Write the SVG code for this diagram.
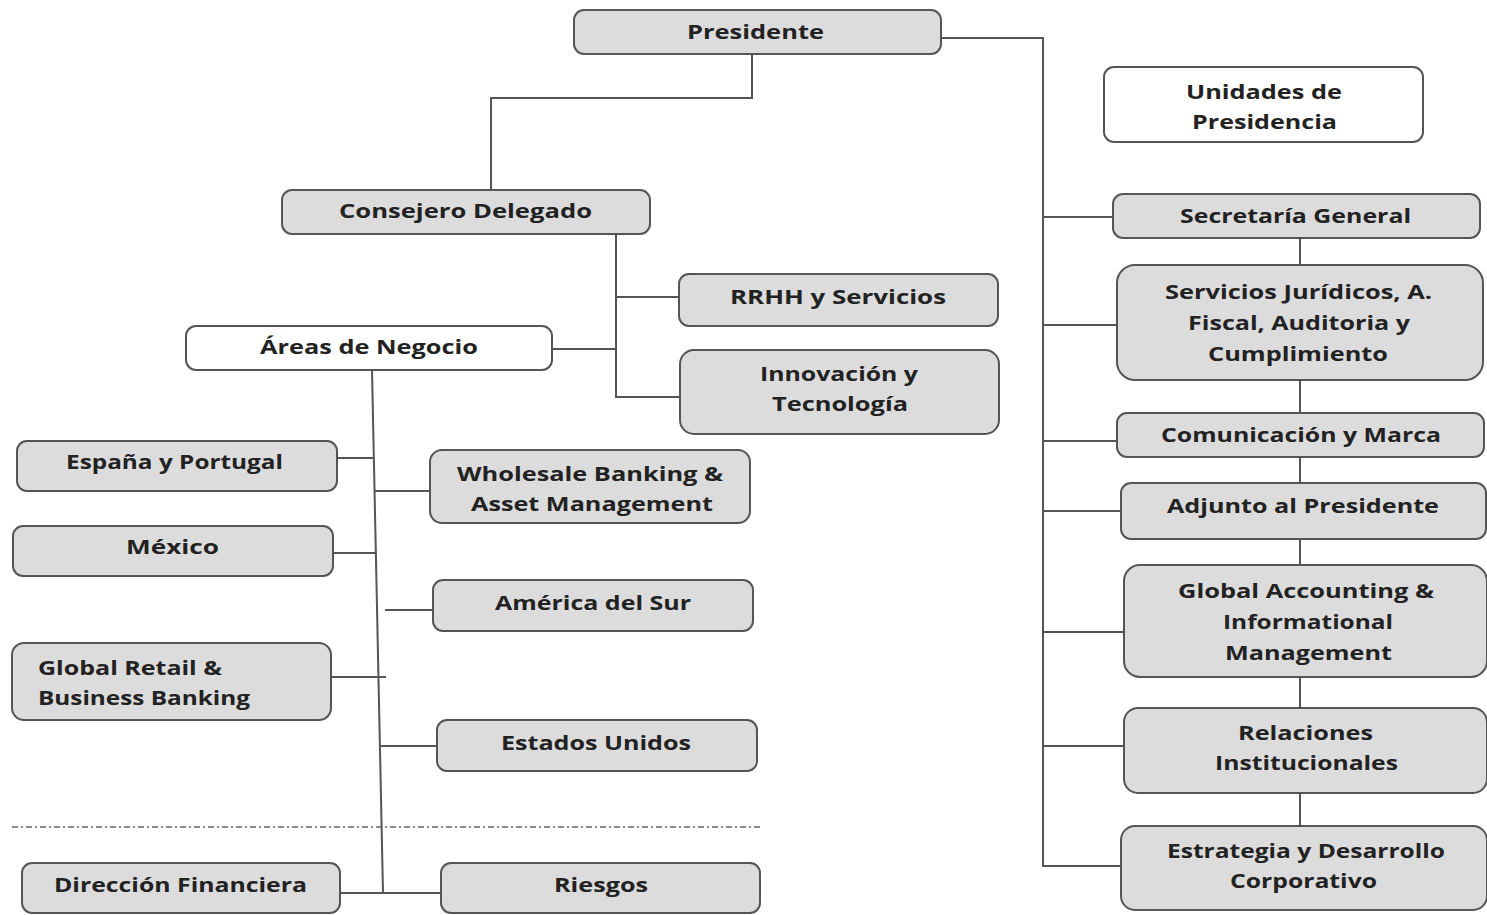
<svg xmlns="http://www.w3.org/2000/svg" width="1487" height="915" viewBox="0 0 1487 915">
<style>
.b{fill:#dcdcdc;stroke:#555;stroke-width:2}
.w{fill:#fff;stroke:#555;stroke-width:2}
.t{font-family:"Open Sans","Liberation Sans",sans-serif;font-weight:700;font-size:20px;fill:#222}
.c{fill:none;stroke:#555;stroke-width:2}
.d{fill:none;stroke:#666;stroke-width:1.5;stroke-dasharray:6 3 2 3}
</style>
<rect width="1487" height="915" fill="#fff"/>
<g id="connectors">
<polyline class="c" points="752,54 752,98 491,98 491,190"/>
<polyline class="c" points="941,38 1043,38 1043,866 1121,866"/>
<line class="c" x1="1043" y1="217" x2="1113" y2="217"/>
<line class="c" x1="1043" y1="325" x2="1117" y2="325"/>
<line class="c" x1="1043" y1="441" x2="1117" y2="441"/>
<line class="c" x1="1043" y1="511" x2="1121" y2="511"/>
<line class="c" x1="1043" y1="632" x2="1124" y2="632"/>
<line class="c" x1="1043" y1="746" x2="1124" y2="746"/>
<line class="c" x1="1300" y1="238" x2="1300" y2="265"/>
<line class="c" x1="1300" y1="380" x2="1300" y2="413"/>
<line class="c" x1="1300" y1="457" x2="1300" y2="483"/>
<line class="c" x1="1300" y1="539" x2="1300" y2="565"/>
<line class="c" x1="1300" y1="677" x2="1300" y2="708"/>
<line class="c" x1="1300" y1="793" x2="1300" y2="826"/>
<polyline class="c" points="616,234 616,397 680,397"/>
<line class="c" x1="616" y1="297" x2="679" y2="297"/>
<line class="c" x1="552" y1="349" x2="616" y2="349"/>
<line class="c" x1="372" y1="370" x2="383" y2="893"/>
<line class="c" x1="337" y1="458" x2="374" y2="458"/>
<line class="c" x1="374" y1="491" x2="430" y2="491"/>
<line class="c" x1="333" y1="553" x2="375" y2="553"/>
<line class="c" x1="385" y1="610" x2="433" y2="610"/>
<line class="c" x1="331" y1="677" x2="386" y2="677"/>
<line class="c" x1="381" y1="746" x2="437" y2="746"/>
<line class="c" x1="340" y1="893" x2="441" y2="893"/>
<line class="d" x1="12" y1="827" x2="760" y2="827"/>
</g>
<g id="presidente"><rect class="b" x="574" y="10" width="367" height="44" rx="10"/><text class="t" x="687" y="39" textLength="137" lengthAdjust="spacingAndGlyphs">Presidente</text></g>
<g id="unidades"><rect class="w" x="1104" y="67" width="319" height="75" rx="10"/><text class="t" x="1186" y="99" textLength="156" lengthAdjust="spacingAndGlyphs">Unidades de</text><text class="t" x="1192" y="129" textLength="145" lengthAdjust="spacingAndGlyphs">Presidencia</text></g>
<g id="secretaria"><rect class="b" x="1113" y="194" width="367" height="44" rx="10"/><text class="t" x="1180" y="223" textLength="231" lengthAdjust="spacingAndGlyphs">Secretaría General</text></g>
<g id="servicios"><rect class="b" x="1117" y="265" width="366" height="115" rx="18"/><text class="t" x="1165" y="299" textLength="267" lengthAdjust="spacingAndGlyphs">Servicios Jurídicos, A.</text><text class="t" x="1188" y="330" textLength="222" lengthAdjust="spacingAndGlyphs">Fiscal, Auditoria y</text><text class="t" x="1208" y="361" textLength="180" lengthAdjust="spacingAndGlyphs">Cumplimiento</text></g>
<g id="comunicacion"><rect class="b" x="1117" y="413" width="367" height="44" rx="10"/><text class="t" x="1161" y="442" textLength="280" lengthAdjust="spacingAndGlyphs">Comunicación y Marca</text></g>
<g id="adjunto"><rect class="b" x="1121" y="483" width="365" height="56" rx="10"/><text class="t" x="1167" y="513" textLength="272" lengthAdjust="spacingAndGlyphs">Adjunto al Presidente</text></g>
<g id="global-accounting"><rect class="b" x="1124" y="565" width="363" height="112" rx="16"/><text class="t" x="1178" y="598" textLength="256" lengthAdjust="spacingAndGlyphs">Global Accounting &amp;</text><text class="t" x="1223" y="629" textLength="170" lengthAdjust="spacingAndGlyphs">Informational</text><text class="t" x="1225" y="660" textLength="167" lengthAdjust="spacingAndGlyphs">Management</text></g>
<g id="relaciones"><rect class="b" x="1124" y="708" width="363" height="85" rx="14"/><text class="t" x="1238" y="740" textLength="135" lengthAdjust="spacingAndGlyphs">Relaciones</text><text class="t" x="1215" y="770" textLength="183" lengthAdjust="spacingAndGlyphs">Institucionales</text></g>
<g id="estrategia"><rect class="b" x="1121" y="826" width="366" height="84" rx="14"/><text class="t" x="1167" y="858" textLength="278" lengthAdjust="spacingAndGlyphs">Estrategia y Desarrollo</text><text class="t" x="1230" y="888" textLength="147" lengthAdjust="spacingAndGlyphs">Corporativo</text></g>
<g id="consejero"><rect class="b" x="282" y="190" width="368" height="44" rx="10"/><text class="t" x="339" y="218" textLength="253" lengthAdjust="spacingAndGlyphs">Consejero Delegado</text></g>
<g id="rrhh"><rect class="b" x="679" y="274" width="319" height="52" rx="10"/><text class="t" x="730" y="304" textLength="216" lengthAdjust="spacingAndGlyphs">RRHH  y Servicios</text></g>
<g id="areas"><rect class="w" x="186" y="326" width="366" height="44" rx="10"/><text class="t" x="260" y="354" textLength="218" lengthAdjust="spacingAndGlyphs">Áreas de Negocio</text></g>
<g id="innovacion"><rect class="b" x="680" y="350" width="319" height="84" rx="14"/><text class="t" x="760" y="381" textLength="158" lengthAdjust="spacingAndGlyphs">Innovación y</text><text class="t" x="772" y="411" textLength="136" lengthAdjust="spacingAndGlyphs">Tecnología</text></g>
<g id="espana"><rect class="b" x="17" y="441" width="320" height="50" rx="10"/><text class="t" x="66" y="469" textLength="217" lengthAdjust="spacingAndGlyphs">España y Portugal</text></g>
<g id="wholesale"><rect class="b" x="430" y="450" width="320" height="73" rx="12"/><text class="t" x="457" y="481" textLength="266" lengthAdjust="spacingAndGlyphs">Wholesale Banking &amp;</text><text class="t" x="471" y="511" textLength="242" lengthAdjust="spacingAndGlyphs">Asset Management</text></g>
<g id="mexico"><rect class="b" x="13" y="526" width="320" height="50" rx="10"/><text class="t" x="126" y="554" textLength="93" lengthAdjust="spacingAndGlyphs">México</text></g>
<g id="america-sur"><rect class="b" x="433" y="580" width="320" height="51" rx="10"/><text class="t" x="495" y="610" textLength="196" lengthAdjust="spacingAndGlyphs">América del Sur</text></g>
<g id="global-retail"><rect class="b" x="12" y="643" width="319" height="77" rx="12"/><text class="t" x="38" y="675" textLength="184" lengthAdjust="spacingAndGlyphs">Global Retail &amp;</text><text class="t" x="38" y="705" textLength="212" lengthAdjust="spacingAndGlyphs">Business Banking</text></g>
<g id="estados-unidos"><rect class="b" x="437" y="720" width="320" height="51" rx="10"/><text class="t" x="501" y="750" textLength="190" lengthAdjust="spacingAndGlyphs">Estados Unidos</text></g>
<g id="direccion"><rect class="b" x="22" y="863" width="318" height="50" rx="10"/><text class="t" x="54" y="892" textLength="253" lengthAdjust="spacingAndGlyphs">Dirección Financiera</text></g>
<g id="riesgos"><rect class="b" x="441" y="863" width="319" height="50" rx="10"/><text class="t" x="554" y="892" textLength="94" lengthAdjust="spacingAndGlyphs">Riesgos</text></g>
</svg>
